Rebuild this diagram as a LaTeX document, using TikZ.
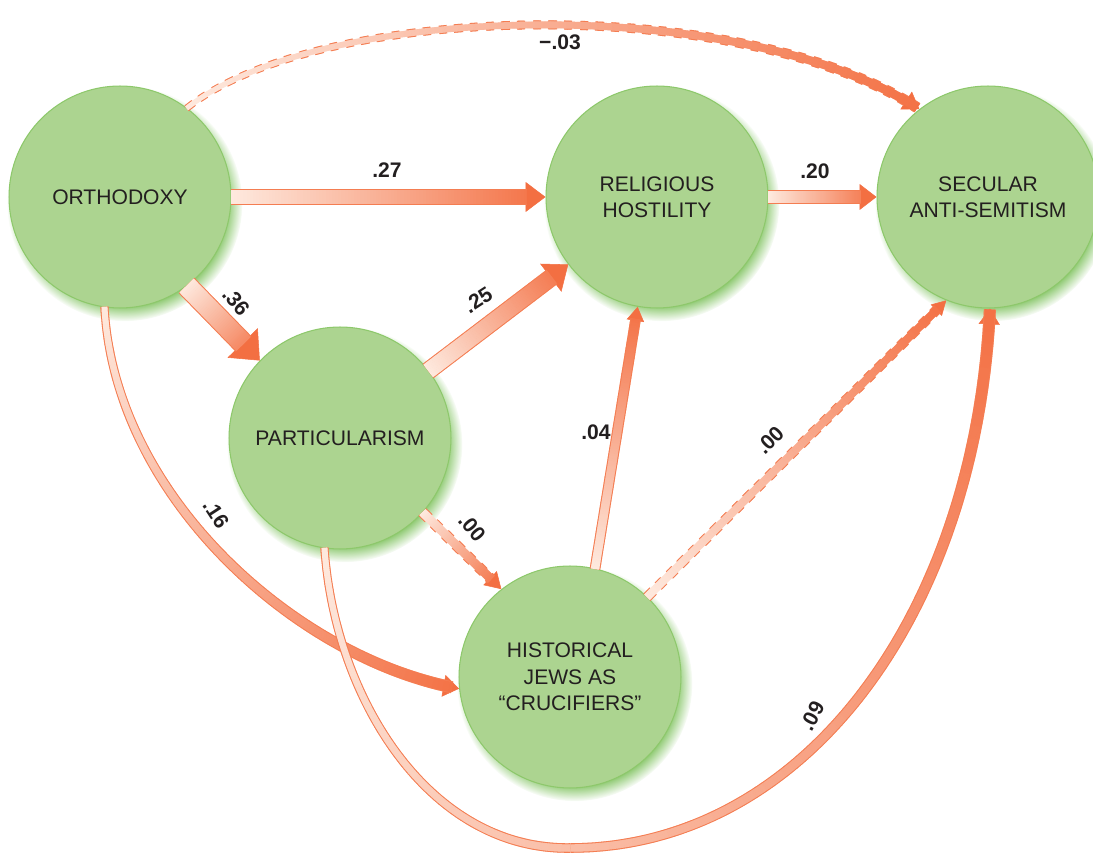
\documentclass[tikz,border=0pt]{standalone}
\usepackage{fontspec}
\setmainfont{Liberation Sans}
\usetikzlibrary{arrows.meta,decorations.markings,shadows}
\definecolor{nodegreen}{HTML}{ACD490}
\definecolor{nodeedge}{HTML}{8DC86B}
\definecolor{shadegreen}{HTML}{72BC4E}
\definecolor{orLight}{HTML}{FEE9DE}
\definecolor{orDark}{HTML}{F36F42}
\definecolor{orBorder}{HTML}{F47D52}
\definecolor{inkgray}{HTML}{231F20}
% shaft widths (pt), head length (pt), dashed border flag
\newcommand{\wa}{4}
\newcommand{\wb}{4}
\newcommand{\hdlen}{9}
\newcommand{\dashb}{0}
% one slice of a shaft: #1 = 1 border pass, 0 fill pass
\newcommand{\shaftpiece}[1]{%
  \pgfmathsetmacro\dst{\pgfkeysvalueof{/pgf/decoration/mark info/distance from start}}%
  \pgfmathsetmacro\fr{\dst/\pgfdecoratedpathlength}%
  \pgfmathsetmacro\hwid{(\wa+(\wb-\wa)*\fr)/2+#1*0.6}%
  \pgfmathtruncatemacro\pc{100*\fr}%
  \pgfmathtruncatemacro\shw{\dst<\pgfdecoratedpathlength-\hdlen+0.8 ? 1 : 0}%
  \pgfmathtruncatemacro\dgap{#1*\dashb*mod(floor(\dst/4.4),2)}%
  \ifnum\shw=1 \ifnum\dgap=0
    \ifnum#1=1 \fill[orBorder] (-0.45pt,-\hwid pt) rectangle (0.45pt,\hwid pt);%
    \else \fill[orDark!\pc!orLight] (-0.45pt,-\hwid pt) rectangle (0.45pt,\hwid pt);\fi
  \fi\fi}
\newcommand{\grarrow}[2][]{%
  \draw[arrline,#1] #2;
  \path[#1,
    postaction={decorate,decoration={markings,mark=between positions 0 and 1 step 0.6pt with {\shaftpiece{1}}}},
    postaction={decorate,decoration={markings,mark=between positions 0 and 1 step 0.6pt with {\shaftpiece{0}}}}] #2;}

\begin{document}
\begin{tikzpicture}[x=0.02cm,y=-0.02cm,
  factor/.style={circle,draw=nodeedge,line width=0.6pt,fill=nodegreen,minimum size=4.44cm,inner sep=0pt,
    align=center,text=inkgray,font=\fontsize{12}{15}\selectfont,
    circular drop shadow={shadow xshift=2.5pt,shadow yshift=-3.5pt,shadow scale=1.06,fill=shadegreen,opacity=.9}},
  coef/.style={font=\bfseries\fontsize{12}{14}\selectfont,text=inkgray},
  arrline/.style={draw=orDark,line width=0.3pt},
  wd/.code 2 args={\def\wa{#1}\def\wb{#2}},
  hd/.style 2 args={-{Triangle[length=#1pt,width=#2pt]},/utils/exec={\def\hdlen{#1}}},
  dashb/.code={\def\dashb{1}}
]
\useasboundingbox (0,0) rectangle (1093,854);

\node[factor] (orth) at (120,197) {ORTHODOXY};
\node[factor] (relig) at (657,197) {RELIGIOUS\\HOSTILITY};
\node[factor] (secul) at (988,197) {SECULAR\\ANTI-SEMITISM};
\node[factor] (partic) at (340,438) {PARTICULARISM};
\node[factor] (hist) at (570,677) {HISTORICAL\\JEWS AS\\“CRUCIFIERS”};

% paths
\grarrow[wd={2.8}{5.1},hd={9}{12},dashb]{(orth.53) .. controls (320,2) and (740,-8) .. (secul.128)}
\grarrow[wd={8}{8},hd={11.3}{17}]{(orth) -- (relig)}
\grarrow[wd={6.8}{6.8},hd={9.6}{14.7}]{(relig) -- (secul)}
\grarrow[wd={11.3}{11.3},hd={14}{24}]{(orth.-53) -- (partic.136)}
\grarrow[wd={9}{9},hd={12.5}{20}]{(partic) -- (relig)}
\grarrow[wd={3.4}{5.7},hd={9}{12.5}]{(orth.-98) .. controls (115,500) and (300,660) .. (hist.-174)}
\grarrow[wd={5}{5},hd={9}{11},dashb]{(partic.-42) -- (hist.128)}
\grarrow[wd={4.8}{4.8},hd={8}{10}]{(hist.77) -- (relig.-100)}
\grarrow[wd={4.5}{4.5},hd={8}{9},dashb]{(hist.46) -- (secul.-112)}
\grarrow[wd={3.4}{5.7},hd={9}{12}]{(partic.-98) .. controls (335,700) and (430,850) .. (570,848) .. controls (800,848) and (975,620) .. (secul.-89)}

% coefficients
\node[coef] (c1) at (560,42) {−.03};
\node[coef] (c2) at (387,170) {.27};
\node[coef] (c3) at (815,171) {.20};
\node[coef,rotate=-50] (c4) at (236,302) {.36};
\node[coef,rotate=33] (c5) at (478,300) {.25};
\node[coef,rotate=-50] (c6) at (472,528) {.00};
\node[coef] (c7) at (596,432) {.04};
\node[coef,rotate=45] (c8) at (770,440) {.00};
\node[coef,rotate=-57] (c9) at (216,514) {.16};
\node[coef,rotate=62] (c10) at (812,716) {.09};
\end{tikzpicture}
\end{document}
